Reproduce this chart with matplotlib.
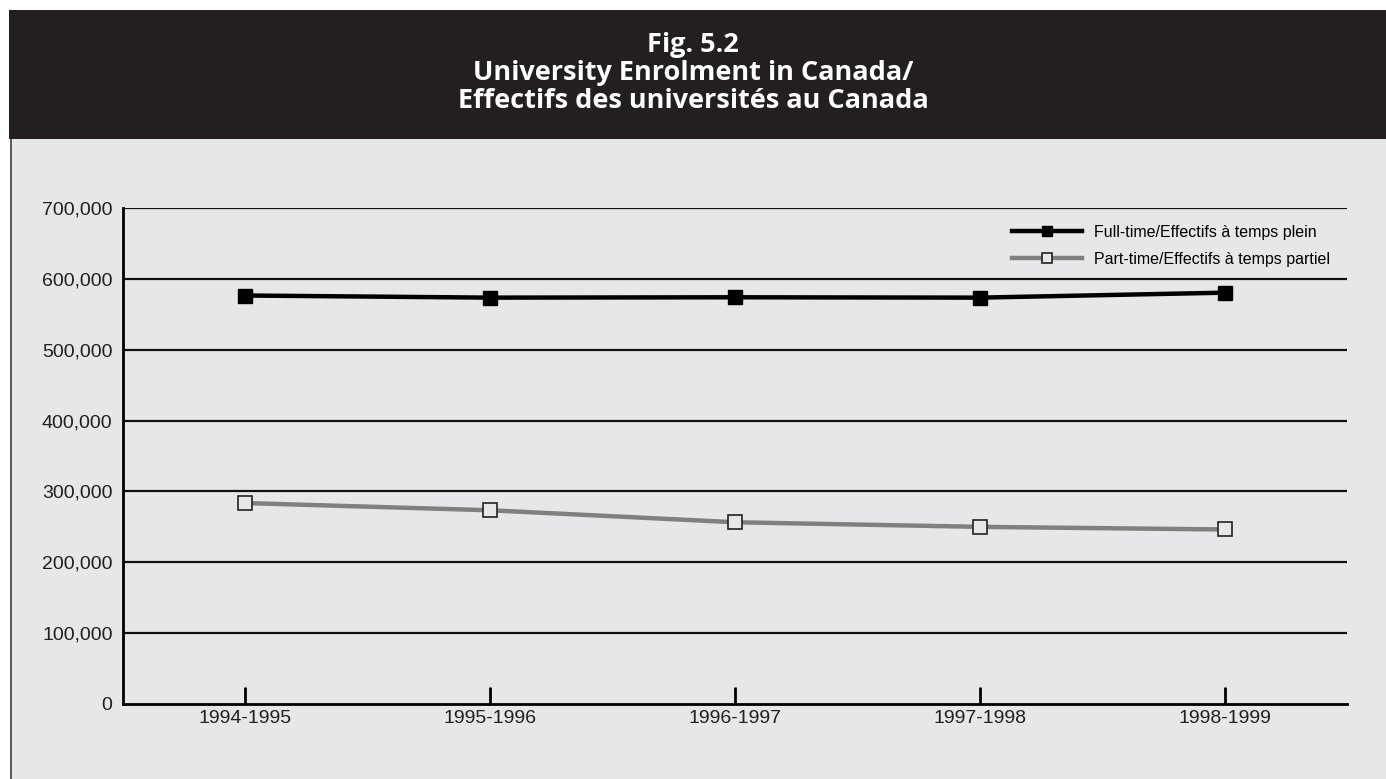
import matplotlib.pyplot as plt
from matplotlib.patches import Rectangle
from matplotlib.lines import Line2D
from matplotlib.ticker import FuncFormatter

years = ["1994-1995", "1995-1996", "1996-1997", "1997-1998", "1998-1999"]
full_time = [576500, 573500, 574000, 573500, 580500]
part_time = [283600, 273400, 256500, 250000, 246300]
y_ticks = [0, 100000, 200000, 300000, 400000, 500000, 600000, 700000]

W, H = 1386, 779
fig = plt.figure(figsize=(W / 100, H / 100), dpi=100, facecolor="white")
plt.rcParams['font.family'] = ['Liberation Sans', 'DejaVu Sans']

# header band and grey panel (behind the axes)
fig.patches.append(Rectangle((10 / W, 0), 1 - 10 / W, 1 - 139 / H, transform=fig.transFigure,
                             facecolor="#e6e7e9", edgecolor="none", zorder=-3))
fig.lines.append(Line2D([10.5 / W, 10.5 / W], [0, 1 - 139 / H], transform=fig.transFigure,
                        color="#444444", lw=1.2, zorder=-2))
fig.patches.append(Rectangle((9 / W, 1 - 139 / H), 1 - 9 / W, 129 / H, transform=fig.transFigure,
                             facecolor="#231f20", edgecolor="none", zorder=-2))
fig.text(0.5, 1 - 73 / H, "Fig. 5.2\nUniversity Enrolment in Canada/\nEffectifs des universités au Canada",
         ha="center", va="center", color="white", fontsize=19.5, fontweight="bold",
         family=["Open Sans", "DejaVu Sans"], linespacing=1.12)

ax = fig.add_axes([123 / W, 1 - 704 / H, (1347 - 123) / W, (704 - 208) / H])
ax.set_facecolor("none")
x = list(range(len(years)))

ax.plot(x, full_time, color="black", lw=3.2, marker="s", markersize=10,
        markerfacecolor="black", markeredgecolor="black", label="Full-time/Effectifs à temps plein", zorder=4)
ax.plot(x, part_time, color="#808080", lw=3.2, marker="s", markersize=10,
        markerfacecolor="#e6e7e9", markeredgecolor="#222222", markeredgewidth=1.2,
        label="Part-time/Effectifs à temps partiel", zorder=4)

ax.set_xlim(-0.5, 4.5)
ax.set_ylim(0, 700000)
ax.set_yticks(y_ticks)
ax.yaxis.set_major_formatter(FuncFormatter(lambda v, p: f"{int(v):,}"))
ax.set_xticks(x)
ax.set_xticklabels(years)
for v in y_ticks[1:]:
    ax.axhline(v, color="#111111", lw=1.6, zorder=2)

for s in ["top", "right"]:
    ax.spines[s].set_visible(False)
for s in ["left", "bottom"]:
    ax.spines[s].set_linewidth(2)
    ax.spines[s].set_color("black")

ax.tick_params(axis="x", direction="in", length=12, width=2, labelsize=14, pad=4, colors="black", labelcolor="#231f20")
ax.tick_params(axis="y", length=0, labelsize=14, pad=7.5, labelcolor="#231f20")

leg = ax.legend(loc="upper right", bbox_to_anchor=(0.998, 0.995), frameon=False, fontsize=11.5,
                handlelength=4.4, numpoints=1, labelspacing=0.75, handletextpad=0.75)
for h in leg.legend_handles:
    h.set_markersize(7)

fig.savefig("out.png", dpi=100, facecolor="white")
